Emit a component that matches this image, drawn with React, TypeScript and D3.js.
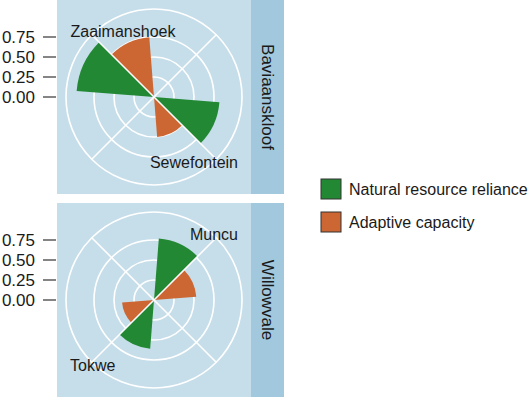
import React, { useEffect, useRef } from 'react';
import * as d3 from 'd3';

// sites in axis order (alphabetical, as they sit around the circle)
const sites = ['Muncu', 'Sewefontein', 'Tokwe', 'Zaaimanshoek'];
const siteRegion = ['Willowvale', 'Baviaanskloof', 'Willowvale', 'Baviaanskloof'];
const regions = ['Baviaanskloof', 'Willowvale'];

const naturalResource = [0.77, 0.82, 0.61, 0.97];
const adaptiveCapacity = [0.53, 0.5, 0.4, 0.75];

const seriesNames = ['Natural resource reliance', 'Adaptive capacity'];
const seriesColors = ['#228833', '#cc6633'];

const rTicks = [0, 0.25, 0.5, 0.75];

const App = () => {
  const ref = useRef<SVGSVGElement>(null);

  useEffect(() => {
    const width = 530;
    const height = 398;
    const font = 'Liberation Sans, Arial, sans-serif';

    const svg = d3.select(ref.current);
    svg.selectAll('*').remove();
    svg.attr('width', width).attr('height', height);

    const panelX = 57;
    const panelW = 194;
    const panelH = 194;
    const stripW = 33;
    const panelTops = [0, 203];

    // radius in px; outer frame circle sits a bit beyond the data range like coord_polar
    const r = d3.scaleLinear().domain([0, 0.975]).range([0, 78]);
    const outerR = 88;
    // discrete theta: positions 1..4 spread over full circle
    const theta = d3.scaleLinear().domain([0.5, sites.length + 0.5]).range([0, 2 * Math.PI]);

    const arc = d3.arc<any>()
      .innerRadius(0)
      .outerRadius((d) => r(d.value))
      .startAngle((d) => d.a0)
      .endAngle((d) => d.a1);

    regions.forEach((region, pi) => {
      const top = panelTops[pi];
      const cx = panelX + panelW / 2;
      const cy = top + panelH / 2;

      svg.append('rect')
        .attr('x', panelX).attr('y', top)
        .attr('width', panelW).attr('height', panelH)
        .attr('fill', '#c6deea');

      // strip
      svg.append('rect')
        .attr('x', panelX + panelW).attr('y', top)
        .attr('width', stripW).attr('height', panelH)
        .attr('fill', '#a2c8dd');
      svg.append('text')
        .attr('transform', `translate(${panelX + panelW + stripW / 2},${cy}) rotate(90)`)
        .attr('text-anchor', 'middle')
        .attr('dy', '0.35em')
        .attr('font-family', font)
        .attr('font-size', 17)
        .attr('fill', '#1a1a1a')
        .text(region);

      const g = svg.append('g').attr('transform', `translate(${cx},${cy})`);

      // rings
      rTicks.filter((t) => t > 0).forEach((t) => {
        g.append('circle').attr('r', r(t))
          .attr('fill', 'none').attr('stroke', '#fff').attr('stroke-width', 1.6);
      });
      g.append('circle').attr('r', outerR)
        .attr('fill', 'none').attr('stroke', '#fff').attr('stroke-width', 1.6);

      // bars
      const idx = sites.map((s, i) => i).filter((i) => siteRegion[i] === region);
      const bars: any[] = [];
      idx.forEach((i) => {
        const pos = i + 1;
        bars.push({ value: naturalResource[i], a0: theta(pos - 0.45), a1: theta(pos), c: seriesColors[0] });
        bars.push({ value: adaptiveCapacity[i], a0: theta(pos), a1: theta(pos + 0.45), c: seriesColors[1] });
      });
      g.selectAll('path.bar').data(bars).enter().append('path')
        .attr('class', 'bar')
        .attr('d', arc)
        .attr('fill', (d) => d.c);

      // spokes at the category positions
      sites.forEach((s, i) => {
        const a = theta(i + 1);
        g.append('line')
          .attr('x1', 0).attr('y1', 0)
          .attr('x2', outerR * Math.sin(a)).attr('y2', -outerR * Math.cos(a))
          .attr('stroke', '#fff').attr('stroke-width', 1.6);
      });

      // site labels, kept inside the panel
      idx.forEach((i) => {
        const a = theta(i + 1);
        const lr = outerR + 5;
        const lx = cx + 2 + lr * Math.sin(a);
        const ly = cy - lr * Math.cos(a);
        const t = svg.append('text')
          .attr('x', lx).attr('y', ly)
          .attr('text-anchor', 'middle')
          .attr('dy', '0.35em')
          .attr('font-family', font)
          .attr('font-size', 16)
          .attr('fill', '#1a1a1a')
          .text(sites[i]);
        const bb = (t.node() as SVGTextElement).getBBox();
        const pad = 13;
        if (bb.x < panelX + pad) t.attr('x', panelX + pad + bb.width / 2);
        if (bb.x + bb.width > panelX + panelW - pad) t.attr('x', panelX + panelW - pad - bb.width / 2);
      });

      // radial axis on the left
      rTicks.forEach((t) => {
        const y = cy - r(t);
        svg.append('line')
          .attr('x1', panelX - 14).attr('x2', panelX - 1)
          .attr('y1', y).attr('y2', y)
          .attr('stroke', '#333').attr('stroke-width', 1.2);
        svg.append('text')
          .attr('x', panelX - 22).attr('y', y)
          .attr('dy', '0.35em')
          .attr('text-anchor', 'end')
          .attr('font-family', font)
          .attr('font-size', 17)
          .attr('fill', '#1a1a1a')
          .text(d3.format('.2f')(t));
      });
    });

    // legend
    const legend = svg.append('g').attr('transform', 'translate(321,179)');
    seriesNames.forEach((name, i) => {
      const y = i * 33;
      legend.append('rect')
        .attr('x', 0).attr('y', y)
        .attr('width', 20).attr('height', 20)
        .attr('fill', seriesColors[i])
        .attr('stroke', '#333').attr('stroke-width', 1);
      legend.append('text')
        .attr('x', 28).attr('y', y + 10)
        .attr('dy', '0.35em')
        .attr('font-family', font)
        .attr('font-size', 16)
        .attr('fill', '#1a1a1a')
        .text(name);
    });
  }, []);

  return <svg ref={ref} style={{ position: 'absolute', left: 0, top: 0 }} />;
};

export default App;
